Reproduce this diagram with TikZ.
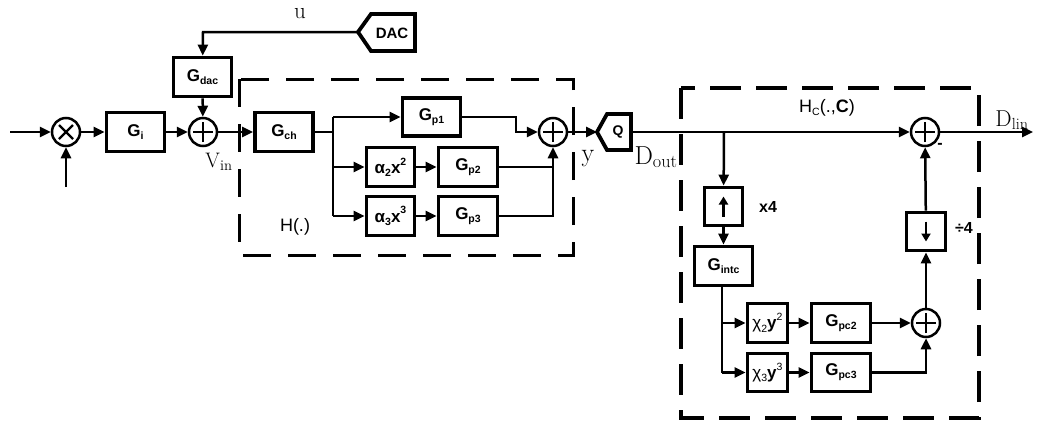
\documentclass[tikz,border=0pt]{standalone}
\usepackage{fontspec}
\newfontfamily\ar{Liberation Sans}
\usetikzlibrary{arrows.meta}
\newcommand\sbs[1]{\raisebox{-0.35ex}{\fontsize{10.5}{10.5}\selectfont #1}}
\newcommand\sps[1]{\raisebox{0.9ex}{\fontsize{10.5}{10.5}\selectfont #1}}
\tikzset{
  blk/.style={draw, line width=3.8pt, inner sep=0pt, font=\ar\bfseries\fontsize{17}{19}\selectfont},
  con/.style={line width=2.5pt, -{Triangle[length=11pt,width=10pt]}},
  ln/.style={line width=2.5pt},
  sumc/.style={draw, circle, line width=2.5pt, minimum size=28pt, inner sep=0pt,
    path picture={\draw[line width=2.4pt] ([xshift=-10pt]path picture bounding box.center) -- ([xshift=10pt]path picture bounding box.center);
                  \draw[line width=2.4pt] ([yshift=-10pt]path picture bounding box.center) -- ([yshift=10pt]path picture bounding box.center);}},
  mulc/.style={draw, circle, line width=2.5pt, minimum size=28pt, inner sep=0pt,
    path picture={\draw[line width=2.4pt] ([shift={(-7pt,-7pt)}]path picture bounding box.center) -- ([shift={(7pt,7pt)}]path picture bounding box.center);
                  \draw[line width=2.4pt] ([shift={(-7pt,7pt)}]path picture bounding box.center) -- ([shift={(7pt,-7pt)}]path picture bounding box.center);}},
  dboxa/.style={line width=3pt, dash pattern=on 28pt off 17pt},
  dboxb/.style={line width=3.1pt, dash pattern=on 31pt off 15pt},
  shp/.style={draw, line width=3.8pt, line join=miter},
  serif/.style={font=\fontsize{23}{25}\selectfont},
  big/.style={font=\fontsize{26}{28}\selectfont},
  lab/.style={font=\ar\bfseries\fontsize{16}{18}\selectfont},
}
\begin{document}
\begin{tikzpicture}[x=1pt,y=-1pt]
\useasboundingbox (0,0) rectangle (1042,429);
% dashed boxes
\draw[dboxa] (239,79) rectangle (573,255);
\draw[dboxb] (681,88) rectangle (979,418);

% left part
\coordinate (in1) at (10,132);
\coordinate (in2) at (66,187);
\node[mulc] (mul) at (66,132) {};
\node[blk, minimum width=58pt, minimum height=39pt] (gi) at (135.5,132) {G\sbs{i}};
\node[sumc] (s1) at (203,132) {};
\node[blk, minimum width=58pt, minimum height=39pt] (gdac) at (202.5,77) {G\sbs{dac}};
% DAC
\draw[shp] (358,32) -- (371,14) -- (415,14) -- (415,51) -- (371,51) -- cycle;
\node[font=\ar\bfseries\fontsize{15}{17}\selectfont] (dac) at (392,33) {DAC};
\coordinate (dactip) at (358,32);
\coordinate (uc) at (203,32);
\node[serif] (u) at (300,14) {u};

\node[blk, minimum width=58pt, minimum height=39pt] (gch) at (284,132) {G\sbs{ch}};
\coordinate (b0) at (333,132);
\coordinate (b1) at (333,117);
\coordinate (b2) at (333,167);
\coordinate (b3) at (333,216);
\node[blk, minimum width=58pt, minimum height=38pt] (gp1) at (431.5,117) {G\sbs{p1}};
\node[blk, minimum width=48pt, minimum height=39pt] (a2) at (390.5,167) {α\sbs{2}x\sps{2}};
\node[blk, minimum width=59pt, minimum height=39pt] (gp2) at (468,167) {G\sbs{p2}};
\node[blk, minimum width=48pt, minimum height=39pt] (a3) at (390.5,216) {α\sbs{3}x\sps{3}};
\node[blk, minimum width=59pt, minimum height=39pt] (gp3) at (468,216) {G\sbs{p3}};
\node[sumc] (s2) at (553,132) {};
\coordinate (c1) at (516,117);
\coordinate (c2) at (516,132);
\coordinate (c3) at (553,167);
\coordinate (c4) at (553,216);
\node[font=\ar\fontsize{18}{20}\selectfont] (hl) at (295,227) {H(.)};
\node[font=\fontsize{21}{23}\selectfont, anchor=base] (vin) at (219,167) {$\mathrm{V}_{\mathrm{in}}$};
\node[big, anchor=base] (ylab) at (588,161) {y};

% Q
\draw[shp] (597,132) -- (607,114) -- (631,114) -- (631,150) -- (607,150) -- cycle;
\node[font=\ar\bfseries\fontsize{14}{16}\selectfont] (q) at (618,132) {Q};
\coordinate (qtip) at (597,132);
\coordinate (qout) at (632,132);
\node[big, anchor=base] (dout) at (656,164) {D$_{\mathrm{out}}$};

% right part
\node[sumc] (s3) at (925,132) {};
\coordinate (out) at (1033,132);
\node[serif, anchor=base] (dlin) at (1012,126) {D$_{\mathrm{lin}}$};
\node[font=\ar\fontsize{18}{20}\selectfont] (hc) at (827,108) {H\sbs{C}(.,\textbf{C})};
\coordinate (br) at (724,132);
\node[blk, minimum width=38pt, minimum height=38pt] (up) at (723.5,206.5) {};
\draw[line width=2.8pt, -{Triangle[length=8pt,width=9pt]}] (up.center) ++(0,10) -- ++(0,-20);
\node[lab] (x4) at (768,207) {x4};
\node[blk, minimum width=58pt, minimum height=39pt] (gint) at (723.5,266) {G\sbs{intc}};
\coordinate (d0) at (722,286);
\coordinate (d1) at (722,323);
\coordinate (d2) at (722,372.5);
\node[blk, minimum width=40pt, minimum height=39pt, font=\ar\fontsize{17}{19}\selectfont] (x2) at (767.5,323) {χ\sbs{2}\textbf{y}\sps{2}};
\node[blk, minimum width=59pt, minimum height=39pt] (gpc2) at (841,323) {G\sbs{pc2}};
\node[blk, minimum width=40pt, minimum height=38pt, font=\ar\fontsize{17}{19}\selectfont] (x3) at (767.5,372.5) {χ\sbs{3}\textbf{y}\sps{3}};
\node[blk, minimum width=59pt, minimum height=38pt] (gpc3) at (841,372.5) {G\sbs{pc3}};
\node[sumc] (s4) at (926,323) {};
\coordinate (e1) at (926,372.5);
\node[blk, minimum width=39pt, minimum height=38pt] (dn) at (926,231.5) {};
\draw[line width=2.8pt, -{Triangle[length=8pt,width=9pt]}] (dn.center) ++(0,-10) -- ++(0,20);
\node[lab] (d4) at (964,228) {÷4};
\node[font=\ar\bfseries\fontsize{16}{18}\selectfont] (minus) at (940,146) {-};

% connectors
\draw[con] (in1) -- (mul);
\draw[con] (in2) -- (mul);
\draw[con] (mul) -- (gi);
\draw[con] (gi) -- (s1);
\draw[con] (dactip) -- (uc) -- (gdac);
\draw[con] (gdac) -- (s1);
\draw[con] (s1) -- (gch);
\draw[ln] (gch) -- (b0);
\draw[ln] (b1) -- (b3);
\draw[con] (b1) -- (gp1);
\draw[con] (b2) -- (a2);
\draw[con] (b3) -- (a3);
\draw[con] (a2) -- (gp2);
\draw[con] (a3) -- (gp3);
\draw[con] (gp1) -- (c1) -- (c2) -- (s2);
\draw[ln] (gp2) -- (c3);
\draw[con] (gp3) -- (c4) -- (s2);
\draw[con] (s2) -- (qtip);
\draw[con] (qout) -- (s3);
\draw[con] (s3) -- (out);
\draw[con] (br) -- (up);
\draw[con] (up) -- (gint);
\draw[ln] (d0) -- (d2);
\draw[con] (d1) -- (x2);
\draw[con] (d2) -- (x3);
\draw[con] (x2) -- (gpc2);
\draw[con] (x3) -- (gpc3);
\draw[con] (gpc2) -- (s4);
\draw[con] (gpc3) -- (e1) -- (s4);
\draw[con] (s4) -- (dn);
\draw[con] (dn) -- (s3);
\end{tikzpicture}
\end{document}
